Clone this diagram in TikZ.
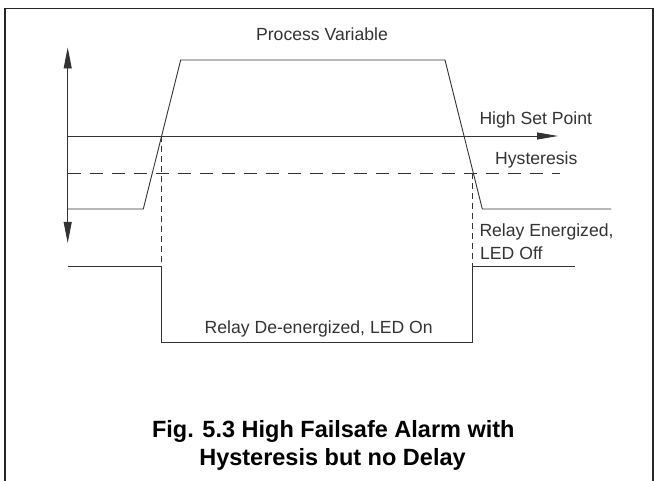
\documentclass[tikz,border=0pt]{standalone}
\usepackage{fontspec}
\setmainfont{Liberation Sans}
\usetikzlibrary{arrows.meta}
\definecolor{ink}{HTML}{333333}
\tikzset{
  sig/.style={draw=ink, line width=0.9pt},
  thr/.style={draw=ink, line width=0.9pt},
  hyst/.style={draw=ink, line width=0.9pt, dash pattern=on 13pt off 9pt},
  guide/.style={draw=ink, line width=0.8pt, dash pattern=on 6pt off 4pt},
  lbl/.style={text=ink, font=\fontsize{17.6}{20}\selectfont, inner sep=0pt},
  captext/.style={text=black, font=\fontsize{23.5}{27.7}\selectfont\bfseries, inner sep=0pt},
  tip/.style={-{Triangle[length=21pt,width=8pt]}},
}
\begin{document}
\begin{tikzpicture}[x=1pt,y=-1pt]
\useasboundingbox (0,0) rectangle (654,481);
% frame
\draw[line width=1.6pt, draw=black!85] (5,481) -- (5,8.5) -- (653,8.5) -- (653,481);
% value axis
\coordinate (ax) at (67.7,128);
\coordinate (axt) at (67.7,47.5);
\coordinate (axb) at (67.7,243);
\draw[sig, tip] (ax) -- (axt);
\draw[sig, tip] (ax) -- (axb);
% set point
\coordinate (sp0) at (67.7,136);
\coordinate (sp1) at (558,136);
\draw[thr, -{Triangle[length=21pt,width=7pt]}] (sp0) -- (sp1);
% hysteresis
\coordinate (hy0) at (67.7,173);
\coordinate (hy1) at (560,173);
\draw[hyst] (hy0) -- (hy1);
% process variable
\coordinate (p0) at (67.7,209);
\coordinate (p1) at (143.3,209);
\coordinate (p2) at (180.7,60);
\coordinate (p3) at (445,60);
\coordinate (p4) at (482.3,209);
\coordinate (p5) at (611,209);
\draw[sig] (p0) -- (p1) -- (p2) -- (p3) -- (p4) -- (p5);
% relay
\coordinate (r0) at (67.7,266);
\coordinate (r1) at (161.7,266);
\coordinate (r2) at (161.7,342.7);
\coordinate (r3) at (472.7,342.7);
\coordinate (r4) at (472.7,266);
\coordinate (r5) at (575,266);
\draw[sig] (r0) -- (r1) -- (r2) -- (r3) -- (r4) -- (r5);
% guides
\coordinate (g1) at (161.7,136);
\coordinate (g2) at (472.7,173);
\draw[guide] (g1) -- (r1);
\draw[guide] (g2) -- (r4);
% labels
\node[lbl, anchor=base] (lpv) at (322,41) {Process Variable};
\node[lbl, anchor=base west] (lsp) at (479.3,125) {High Set Point};
\node[lbl, anchor=base west] (lhy) at (495,165) {Hysteresis};
\node[lbl, anchor=base west] (lre) at (479.3,236.7) {Relay Energized,};
\node[lbl, anchor=base west] (llo) at (480,259.3) {LED Off};
\node[lbl, anchor=base] (lrd) at (318.7,334) {Relay De-energized, LED On};
\node[captext, anchor=base] (capa) at (333.3,437.3) {Fig. 5.3 High Failsafe Alarm with};
\node[captext, anchor=base] (capb) at (332.5,465) {Hysteresis but no Delay};
\end{tikzpicture}
\end{document}
